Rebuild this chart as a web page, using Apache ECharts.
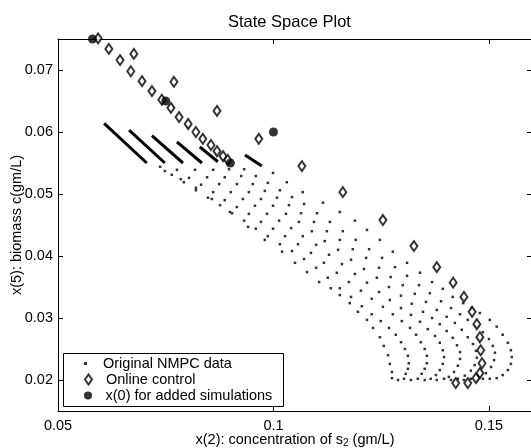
<!DOCTYPE html>
<html><head><meta charset="utf-8">
<script src="https://cdn.jsdelivr.net/npm/echarts@6/dist/echarts.min.js"></script>
<style>html,body{margin:0;padding:0;background:#fff}#c{width:531px;height:448px}</style>
</head><body><div id="c"></div>
<script>
const xTicks = [0.05, 0.1, 0.15];
const xTickLabels = ['0.05', '0.1', '0.15'];
const yTicks = [0.02, 0.03, 0.04, 0.05, 0.06, 0.07];
const yTickLabels = ['0.02', '0.03', '0.04', '0.05', '0.06', '0.07'];

// dense start segments of the NMPC trajectories
const seg1 = [[0.0607,0.0614],[0.0706,0.0550]];
const seg2 = [[0.0665,0.0603],[0.0748,0.0550]];
const seg3 = [[0.0718,0.0594],[0.0790,0.0550]];
const seg4 = [[0.0776,0.0584],[0.0834,0.0550]];
const seg5 = [[0.0829,0.0576],[0.0871,0.0552]];
const seg6 = [[0.0934,0.0563],[0.0973,0.0545]];

const nmpcA = [[0.0999,0.0534],[0.1031,0.0519],[0.1068,0.0503],[0.1115,0.0486],[0.1154,0.0471],[0.1189,0.0457],[0.1217,0.0442],[0.1247,0.0426],[0.1277,0.0407],[0.1310,0.0389],[0.1340,0.0373],[0.1368,0.0358],[0.1393,0.0347],[0.1416,0.0334],[0.1440,0.0324],[0.1460,0.0316],[0.1479,0.0308],[0.1502,0.0297],[0.1518,0.0286],[0.1532,0.0273],[0.1544,0.0260],[0.1551,0.0248],[0.1553,0.0237],[0.1551,0.0226],[0.1544,0.0216],[0.1532,0.0208],[0.1518,0.0203],[0.1502,0.0202],[0.1486,0.0202],[0.1472,0.0200]];
const nmpcB = [[0.0932,0.0540],[0.0959,0.0529],[0.0987,0.0518],[0.1015,0.0506],[0.1043,0.0495],[0.1071,0.0484],[0.1101,0.0469],[0.1131,0.0455],[0.1161,0.0440],[0.1191,0.0426],[0.1222,0.0411],[0.1252,0.0397],[0.1282,0.0382],[0.1310,0.0368],[0.1338,0.0353],[0.1363,0.0340],[0.1389,0.0327],[0.1412,0.0316],[0.1433,0.0306],[0.1451,0.0297],[0.1470,0.0287],[0.1486,0.0277],[0.1500,0.0266],[0.1509,0.0255],[0.1514,0.0244],[0.1512,0.0232],[0.1505,0.0221],[0.1493,0.0211],[0.1477,0.0205],[0.1458,0.0202],[0.1442,0.0200]];
const nmpcC = [[0.0897,0.0540],[0.0925,0.0529],[0.0952,0.0516],[0.0980,0.0505],[0.1008,0.0494],[0.1036,0.0482],[0.1064,0.0469],[0.1094,0.0455],[0.1124,0.0440],[0.1154,0.0426],[0.1184,0.0411],[0.1215,0.0397],[0.1245,0.0381],[0.1272,0.0366],[0.1300,0.0353],[0.1328,0.0339],[0.1354,0.0326],[0.1379,0.0313],[0.1402,0.0302],[0.1421,0.0292],[0.1437,0.0281],[0.1451,0.0269],[0.1463,0.0258],[0.1470,0.0247],[0.1472,0.0236],[0.1467,0.0224],[0.1458,0.0215],[0.1444,0.0207],[0.1428,0.0202],[0.1412,0.0200]];
const nmpcD = [[0.0860,0.0539],[0.0887,0.0527],[0.0915,0.0516],[0.0943,0.0503],[0.0971,0.0492],[0.0999,0.0481],[0.1029,0.0468],[0.1059,0.0455],[0.1089,0.0440],[0.1119,0.0424],[0.1150,0.0410],[0.1180,0.0394],[0.1210,0.0379],[0.1240,0.0365],[0.1268,0.0350],[0.1296,0.0336],[0.1321,0.0323],[0.1347,0.0310],[0.1368,0.0300],[0.1386,0.0290],[0.1402,0.0279],[0.1416,0.0268],[0.1426,0.0256],[0.1433,0.0245],[0.1433,0.0234],[0.1428,0.0223],[0.1419,0.0213],[0.1407,0.0205],[0.1396,0.0202],[0.1379,0.0200]];
const nmpcE = [[0.0818,0.0539],[0.0846,0.0527],[0.0874,0.0516],[0.0901,0.0503],[0.0929,0.0492],[0.0957,0.0481],[0.0985,0.0468],[0.1013,0.0457],[0.1041,0.0445],[0.1068,0.0432],[0.1099,0.0418],[0.1129,0.0402],[0.1159,0.0387],[0.1189,0.0371],[0.1217,0.0357],[0.1245,0.0342],[0.1270,0.0329],[0.1296,0.0316],[0.1319,0.0305],[0.1340,0.0294],[0.1358,0.0282],[0.1375,0.0271],[0.1386,0.0260],[0.1393,0.0248],[0.1396,0.0237],[0.1393,0.0226],[0.1386,0.0216],[0.1377,0.0208],[0.1365,0.0202],[0.1351,0.0200]];
const nmpcF = [[0.0776,0.0539],[0.0804,0.0526],[0.0832,0.0515],[0.0860,0.0503],[0.0887,0.0490],[0.0915,0.0479],[0.0943,0.0468],[0.0971,0.0455],[0.0999,0.0444],[0.1027,0.0432],[0.1057,0.0419],[0.1087,0.0405],[0.1117,0.0389],[0.1147,0.0373],[0.1175,0.0358],[0.1203,0.0344],[0.1228,0.0331],[0.1254,0.0318],[0.1277,0.0306],[0.1298,0.0295],[0.1317,0.0284],[0.1331,0.0273],[0.1342,0.0261],[0.1351,0.0250],[0.1356,0.0239],[0.1356,0.0227],[0.1351,0.0218],[0.1344,0.0210],[0.1335,0.0202],[0.1319,0.0200]];
const nmpcG = [[0.0737,0.0544],[0.0764,0.0531],[0.0792,0.0519],[0.0820,0.0506],[0.0848,0.0494],[0.0876,0.0482],[0.0904,0.0469],[0.0932,0.0457],[0.0959,0.0444],[0.0987,0.0432],[0.1015,0.0419],[0.1043,0.0408],[0.1071,0.0395],[0.1099,0.0381],[0.1126,0.0365],[0.1154,0.0348],[0.1180,0.0334],[0.1205,0.0319],[0.1228,0.0306],[0.1249,0.0295],[0.1268,0.0284],[0.1284,0.0273],[0.1296,0.0261],[0.1305,0.0250],[0.1312,0.0239],[0.1314,0.0227],[0.1312,0.0218],[0.1307,0.0210],[0.1303,0.0202],[0.1289,0.0200]];
const nmpcH = [[0.0748,0.0537],[0.0785,0.0524],[0.0820,0.0510],[0.0857,0.0492],[0.0899,0.0471],[0.0941,0.0447],[0.0980,0.0426],[0.1020,0.0407],[0.1050,0.0389],[0.1078,0.0374],[0.1106,0.0358],[0.1133,0.0348],[0.1154,0.0337],[0.1177,0.0324],[0.1196,0.0310],[0.1217,0.0297],[0.1231,0.0284],[0.1247,0.0269],[0.1256,0.0255],[0.1266,0.0240],[0.1270,0.0226],[0.1275,0.0213],[0.1275,0.0203]];

const onlineControl = [[0.0593,0.0751],[0.0618,0.0734],[0.0644,0.0716],[0.0676,0.0726],[0.0669,0.0698],[0.0695,0.0682],[0.0718,0.0666],[0.0769,0.0681],[0.0741,0.0652],[0.0762,0.0639],[0.0781,0.0624],[0.0802,0.0613],[0.0820,0.0600],[0.0836,0.0589],[0.0855,0.0579],[0.0869,0.0569],[0.0883,0.0561],[0.0894,0.0555],[0.0869,0.0634],[0.0966,0.0589],[0.1066,0.0545],[0.1161,0.0503],[0.1254,0.0458],[0.1326,0.0416],[0.1379,0.0382],[0.1417,0.0357],[0.1442,0.0334],[0.1461,0.0310],[0.1472,0.0290],[0.1479,0.0269],[0.1481,0.0248],[0.1484,0.0227],[0.1479,0.0211],[0.1470,0.0203],[0.1451,0.0195],[0.1423,0.0195]];

const initialStates = [[0.058,0.075],[0.075,0.065],[0.09,0.055],[0.1,0.06]];

const F = '"Liberation Sans", Arial, Helvetica, sans-serif';
const segments = [seg1, seg2, seg3, seg4, seg5, seg6];
const nmpc = [].concat(nmpcA, nmpcB, nmpcC, nmpcD, nmpcE, nmpcF, nmpcG, nmpcH);

function lab(ticks, labels) {
  return v => { const i = ticks.findIndex(t => Math.abs(t - v) < 1e-9); return i >= 0 ? labels[i] : ''; };
}
const axisLine = {show: true, lineStyle: {color: '#000', width: 1}};
const txt = {color: '#000', fontFamily: F, fontSize: 14.5};

const series = [];
segments.forEach(s => series.push({
  type: 'line', name: 'seg', data: s, symbol: 'none', silent: true,
  lineStyle: {color: '#000', width: 3}, z: 2
}));
series.push({
  type: 'scatter', name: 'Original NMPC data', data: nmpc, symbol: 'rect', symbolSize: 2.5,
  itemStyle: {color: '#000'}, z: 3
});
series.push({
  type: 'scatter', name: 'Online control', data: onlineControl, symbol: 'diamond', symbolSize: [7, 10],
  clip: false, itemStyle: {color: '#fff', borderColor: '#000', borderWidth: 2}, z: 4
});
series.push({
  type: 'scatter', name: 'x(0) for added simulations', data: initialStates, symbol: 'circle', symbolSize: 9,
  clip: false, itemStyle: {color: '#000'}, z: 5
});

const legendBase = {orient: 'vertical', left: 84, padding: 0, itemWidth: 25, selectedMode: false,
  textStyle: Object.assign({}, txt), itemGap: 0, z: 10};

const chart = echarts.init(document.getElementById('c'));
chart.setOption({
  animation: false,
  backgroundColor: '#fff',
  title: {text: 'State Space Plot', left: 223, top: 9, textStyle: {color: '#000', fontFamily: F, fontSize: 16.5, fontWeight: 'normal'}},
  grid: {left: 58, top: 39, width: 474, height: 372, outerBoundsMode: 'none', containLabel: false},
  xAxis: [{
    type: 'value', min: 0.05, max: 0.16, position: 'bottom',
    axisLine: axisLine,
    axisTick: {inside: true, length: 5, customValues: xTicks, lineStyle: {color: '#000'}},
    axisLabel: Object.assign({customValues: xTicks, formatter: lab(xTicks, xTickLabels), margin: 7}, txt),
    splitLine: {show: false},
    name: 'x(2): concentration of s{sub|2} (gm/L)', nameLocation: 'middle', nameGap: 20, nameMoveOverlap: false,
    nameTextStyle: Object.assign({rich: {sub: {fontSize: 10, fontFamily: F, color: '#000', verticalAlign: 'bottom', padding: [7, 0, 0, 0]}}}, txt)
  }, {
    type: 'value', min: 0.05, max: 0.16, position: 'top',
    axisLine: axisLine,
    axisTick: {inside: true, length: 5, customValues: xTicks, lineStyle: {color: '#000'}},
    axisLabel: {show: false}, splitLine: {show: false}
  }],
  yAxis: [{
    type: 'value', min: 0.015, max: 0.075, position: 'left',
    axisLine: axisLine,
    axisTick: {inside: true, length: 5, customValues: yTicks, lineStyle: {color: '#000'}},
    axisLabel: Object.assign({customValues: yTicks, formatter: lab(yTicks, yTickLabels), margin: 5}, txt),
    splitLine: {show: false},
    name: 'x(5): biomass c(gm/L)', nameLocation: 'middle', nameGap: 34, nameMoveOverlap: false, nameTextStyle: txt
  }, {
    type: 'value', min: 0.015, max: 0.075, position: 'right',
    axisLine: axisLine,
    axisTick: {inside: true, length: 5, customValues: yTicks, lineStyle: {color: '#000'}},
    axisLabel: {show: false}, splitLine: {show: false}
  }],
  legend: [
    Object.assign({}, legendBase, {top: 356, itemHeight: 3, data: [{name: 'Original NMPC data', icon: 'path://M0,0L1,0L1,1L0,1Z'}]}),
    Object.assign({}, legendBase, {top: 372, itemHeight: 10, data: [{name: 'Online control', icon: 'path://M0,-5L3.5,0L0,5L-3.5,0Z'}]}),
    Object.assign({}, legendBase, {top: 388, itemHeight: 8, data: [{name: 'x(0) for added simulations', icon: 'circle'}]})
  ],
  graphic: [{type: 'rect', left: 63, top: 353, z: 9, shape: {width: 220, height: 53},
    style: {fill: '#fff', stroke: '#000', lineWidth: 1}}],
  series: series
});
</script></body></html>
